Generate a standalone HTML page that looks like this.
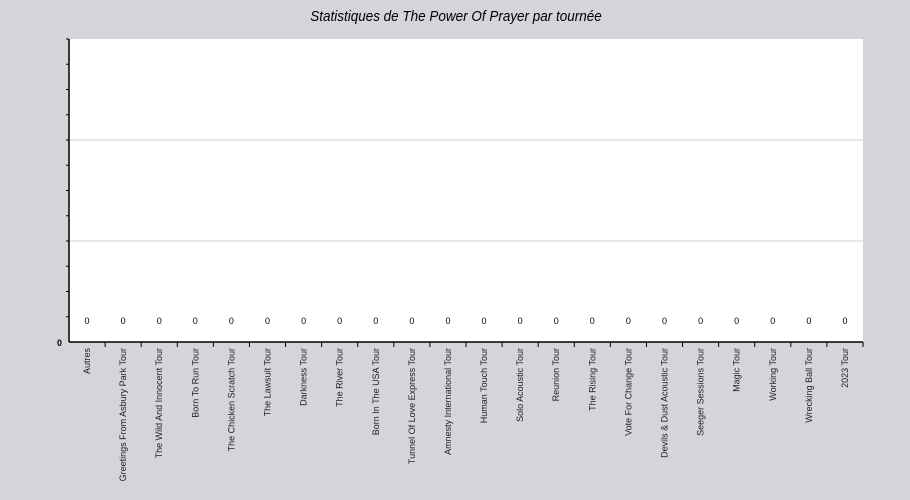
<!DOCTYPE html>
<html><head><meta charset="utf-8"><style>
body{margin:0;background:#d5d4d9;}
svg{display:block;font-family:"Liberation Sans",sans-serif;}
</style></head><body>
<svg width="910" height="500">
<rect width="910" height="500" fill="#d5d4d9"/>
<text x="456" y="21" text-anchor="middle" font-size="15" font-style="italic" fill="#000" transform="translate(456,0) scale(0.9,1) translate(-456,0)">Statistiques de The Power Of Prayer par tournée</text>
<rect x="69" y="39" width="794" height="303" fill="#fff"/>
<g id="grid"></g><g id="axes"></g><g id="marks"></g><g id="xlabels"></g>
</svg>
<script>
const categories=["Autres","Greetings From Asbury Park Tour","The Wild And Innocent Tour","Born To Run Tour","The Chicken Scratch Tour","The Lawsuit Tour","Darkness Tour","The River Tour","Born In The USA Tour","Tunnel Of Love Express Tour","Amnesty International Tour","Human Touch Tour","Solo Acoustic Tour","Reunion Tour","The Rising Tour","Vote For Change Tour","Devils &amp; Dust Acoustic Tour","Seeger Sessions Tour","Magic Tour","Working Tour","Wrecking Ball Tour","2023 Tour"];
const values=[0,0,0,0,0,0,0,0,0,0,0,0,0,0,0,0,0,0,0,0,0,0];
const yTicks=[0];
const NS="http://www.w3.org/2000/svg";
const L=69,R=863,T=39,B=342;
const bw=(R-L)/categories.length;
const xC=i=>L+bw*(i+0.5);
const yS=v=>B-v*100;
function mk(tag,attrs,parent){const e=document.createElementNS(NS,tag);for(const k in attrs)e.setAttribute(k,attrs[k]);document.getElementById(parent).appendChild(e);return e;}
[140,241].forEach(y=>{const g=mk('line',{x1:L,x2:R,y1:y,y2:y,stroke:'#d0d0d0'},'grid');

});
let a=mk('line',{x1:L,x2:L,y1:T,y2:B,stroke:'#000','stroke-width':1.5},'axes');


a=mk('line',{x1:L,x2:R,y1:B,y2:B,stroke:'#000','stroke-width':1.5},'axes');


for(let y=T;y<B;y+=25.25){mk('line',{x1:L-3,x2:L,y1:y,y2:y,stroke:'#000'},'axes');}
yTicks.forEach(v=>{const t=mk('text',{x:L-7,y:yS(v)+4,'text-anchor':'end','font-size':9,'font-weight':'bold'},'axes');t.textContent=v;

});
for(let i=1;i<=categories.length;i++){const x=L+bw*i;mk('line',{x1:x,x2:x,y1:B,y2:B+5,stroke:'#000'},'axes');}
categories.forEach((c,i)=>{
const t=mk('text',{x:0,y:0,'text-anchor':'end','font-size':9,transform:`translate(${xC(i)+3},348) rotate(-90)`,fill:'#222'},'xlabels');
t.innerHTML=c;


const v=mk('text',{x:xC(i),y:yS(values[i])-18,'text-anchor':'middle','font-size':9},'marks');
v.textContent=values[i];


});
</script>
</body></html>
